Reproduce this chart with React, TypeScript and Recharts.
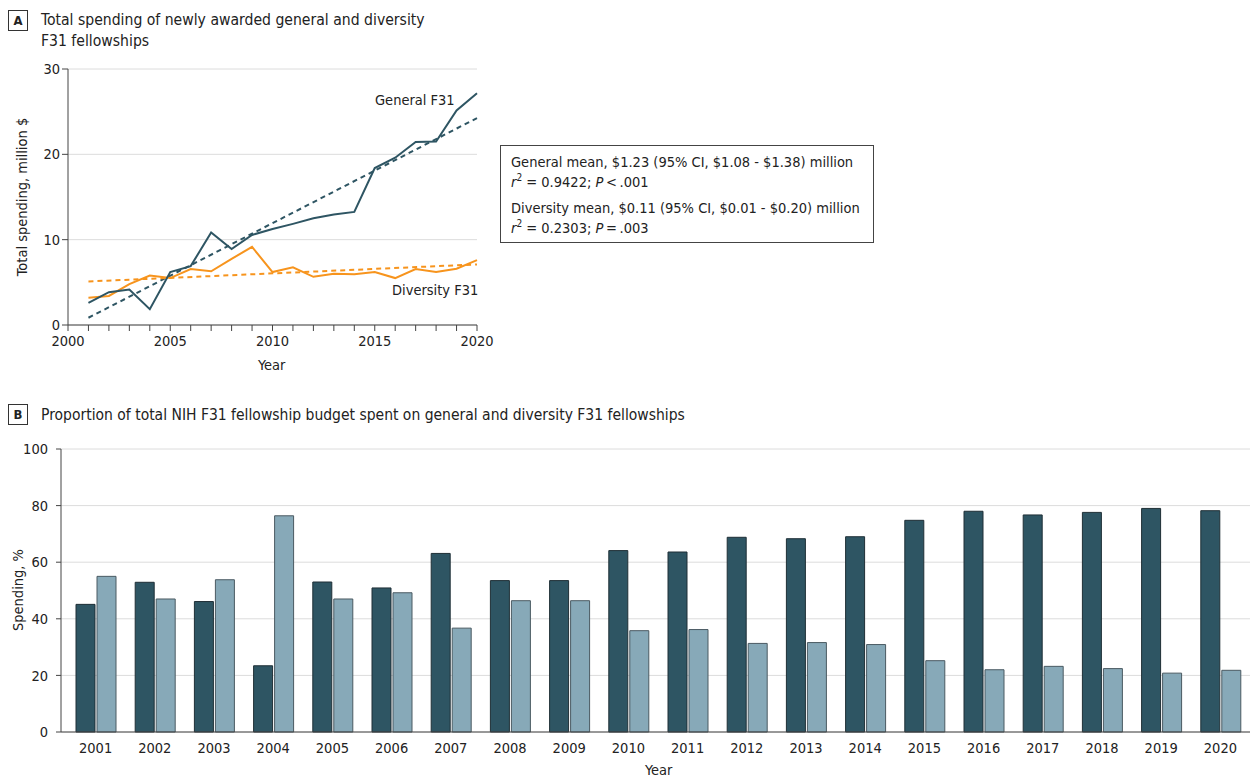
import { LineChart, Line, XAxis, YAxis, CartesianGrid, BarChart, Bar } from "recharts";

const years = [2001, 2002, 2003, 2004, 2005, 2006, 2007, 2008, 2009, 2010, 2011, 2012, 2013, 2014, 2015, 2016, 2017, 2018, 2019, 2020];

// panel A, million $
const generalSpending = [2.6, 3.85, 4.15, 1.85, 6.2, 6.9, 10.85, 8.9, 10.55, 11.25, 11.85, 12.5, 12.95, 13.25, 18.4, 19.6, 21.45, 21.5, 25.15, 27.15];
const diversitySpending = [3.2, 3.4, 4.8, 5.8, 5.5, 6.55, 6.3, 7.75, 9.15, 6.2, 6.75, 5.65, 6.0, 5.95, 6.2, 5.5, 6.55, 6.2, 6.6, 7.6];
const trendYears = [2001, 2020];
const generalTrend = [0.85, 24.25];
const diversityTrend = [5.1, 7.1];
const spendingTicks = [0, 10, 20, 30];
const yearTicks = [2000, 2001, 2002, 2003, 2004, 2005, 2006, 2007, 2008, 2009, 2010, 2011, 2012, 2013, 2014, 2015, 2016, 2017, 2018, 2019, 2020];

// panel B, %
const generalShare = [45.1, 52.9, 46.1, 23.4, 53.0, 50.9, 63.1, 53.5, 53.5, 64.1, 63.6, 68.8, 68.3, 69.0, 74.8, 78.0, 76.7, 77.6, 79.0, 78.2];
const diversityShare = [55.0, 47.0, 53.8, 76.4, 47.0, 49.2, 36.7, 46.4, 46.4, 35.8, 36.2, 31.3, 31.6, 30.9, 25.2, 22.0, 23.2, 22.4, 20.8, 21.8];
const shareTicks = [0, 20, 40, 60, 80, 100];

const DARK = "#2e5563";
const LIGHT = "#87a9b8";
const ORANGE = "#f7941d";
const FONT = "'Liberation Sans Narrow', 'DejaVu Sans Condensed', 'Open Sans', sans-serif";

const lineData = years.map((y, i) => ({ year: y, general: generalSpending[i], diversity: diversitySpending[i] }));
const trendData = trendYears.map((y, i) => ({ year: y, generalTrend: generalTrend[i], diversityTrend: diversityTrend[i] }));
const barData = years.map((y, i) => ({ year: String(y), general: generalShare[i], diversity: diversityShare[i] }));

const tickStyle = { fill: "#222", fontSize: 14.5 };

function PanelTag({ letter, top }: { letter: string; top: number }) {
  return (
    <div
      style={{
        position: "absolute", left: 8, top, width: 18, height: 19,
        border: "1.5px solid #333", fontSize: 13, fontWeight: "bold",
        textAlign: "center", lineHeight: "19px", color: "#222",
      }}
    >
      {letter}
    </div>
  );
}

const abs = (left: number, top: number, extra: React.CSSProperties = {}): React.CSSProperties => ({
  position: "absolute", left, top, whiteSpace: "nowrap", ...extra,
});

export default function App() {
  return (
    <div style={{ position: "absolute", left: 0, top: 0, width: 1250, height: 779, background: "#fff", fontFamily: FONT, color: "#222", overflow: "hidden" }}>
      {/* Panel A */}
      <PanelTag letter="A" top={10} />
      <div style={abs(41, 10, { fontSize: 15.6, lineHeight: "21px" })}>
        Total spending of newly awarded general and diversity
        <br />
        F31 fellowships
      </div>

      <div style={{ position: "absolute", left: 0, top: 0 }}>
        <LineChart width={500} height={380} data={lineData} margin={{ top: 69, right: 23, left: 28, bottom: 25 }}>
          <CartesianGrid vertical={false} stroke="#dcdcdc" />
          <XAxis
            dataKey="year" type="number" domain={[2000, 2020]} ticks={yearTicks} interval={0}
            tickFormatter={(v) => (v % 5 === 0 ? String(v) : "")}
            tick={tickStyle} tickMargin={5} height={30}
            axisLine={{ stroke: "#444" }} tickLine={{ stroke: "#444" }} allowDuplicatedCategory={false}
          />
          <YAxis
            domain={[0, 30]} ticks={spendingTicks} tick={tickStyle} width={40}
            axisLine={{ stroke: "#444" }} tickLine={{ stroke: "#444" }}
          />
          <Line data={trendData} dataKey="generalTrend" stroke={DARK} strokeWidth={2} strokeDasharray="5 4" dot={false} isAnimationActive={false} />
          <Line data={trendData} dataKey="diversityTrend" stroke={ORANGE} strokeWidth={2} strokeDasharray="5 4" dot={false} isAnimationActive={false} />
          <Line dataKey="diversity" stroke={ORANGE} strokeWidth={2} dot={false} isAnimationActive={false} type="linear" />
          <Line dataKey="general" stroke={DARK} strokeWidth={2} dot={false} isAnimationActive={false} type="linear" />
        </LineChart>
      </div>

      <div style={abs(375, 92, { fontSize: 14.5 })}>General F31</div>
      <div style={abs(392, 282, { fontSize: 14.5 })}>Diversity F31</div>
      <div style={abs(258, 357, { fontSize: 14.5 })}>Year</div>
      <div style={abs(22, 197, { fontSize: 14.5, transform: "translate(-50%, -50%) rotate(-90deg)" })}>Total spending, million $</div>

      <div
        style={{
          position: "absolute", left: 500, top: 145, width: 362, height: 86,
          border: "1px solid #444", padding: "6px 0 4px 10px", fontSize: 14.5, lineHeight: "20px",
        }}
      >
        <div>General mean, $1.23 (95% CI, $1.08 - $1.38) million</div>
        <div>
          <i>r</i>
          <sup style={{ fontSize: 10, lineHeight: 0 }}>2</sup> = 0.9422; <i>P</i>&thinsp;&lt;&thinsp;.001
        </div>
        <div style={{ marginTop: 6 }}>Diversity mean, $0.11 (95% CI, $0.01 - $0.20) million</div>
        <div>
          <i>r</i>
          <sup style={{ fontSize: 10, lineHeight: 0 }}>2</sup> = 0.2303; <i>P</i>&thinsp;=&thinsp;.003
        </div>
      </div>

      {/* Panel B */}
      <PanelTag letter="B" top={404} />
      <div style={abs(41, 405, { fontSize: 15.5, lineHeight: "21px" })}>
        Proportion of total NIH F31 fellowship budget spent on general and diversity F31 fellowships
      </div>

      <div style={{ position: "absolute", left: 0, top: 430 }}>
        <BarChart width={1250} height={349} data={barData} margin={{ top: 19, right: 0, left: 0, bottom: 22 }} barSize={19} barGap={2}>
          <CartesianGrid vertical={false} stroke="#dcdcdc" />
          <XAxis
            dataKey="year" tick={tickStyle} tickLine={false} tickSize={6} tickMargin={5} height={25}
            axisLine={{ stroke: "#444" }} padding={{ left: 5, right: 0 }} interval={0}
          />
          <YAxis
            domain={[0, 100]} ticks={shareTicks} tick={tickStyle} width={61} tickSize={5} tickMargin={8}
            axisLine={{ stroke: "#444" }} tickLine={{ stroke: "#444" }}
          />
          <Bar dataKey="general" fill={DARK} stroke="#1f2f36" strokeWidth={1} isAnimationActive={false} />
          <Bar dataKey="diversity" fill={LIGHT} stroke="#4a5a62" strokeWidth={1} isAnimationActive={false} />
        </BarChart>
      </div>

      <div style={abs(645, 762, { fontSize: 14.5 })}>Year</div>
      <div style={abs(18, 590, { fontSize: 14.5, transform: "translate(-50%, -50%) rotate(-90deg)" })}>Spending, %</div>
    </div>
  );
}
